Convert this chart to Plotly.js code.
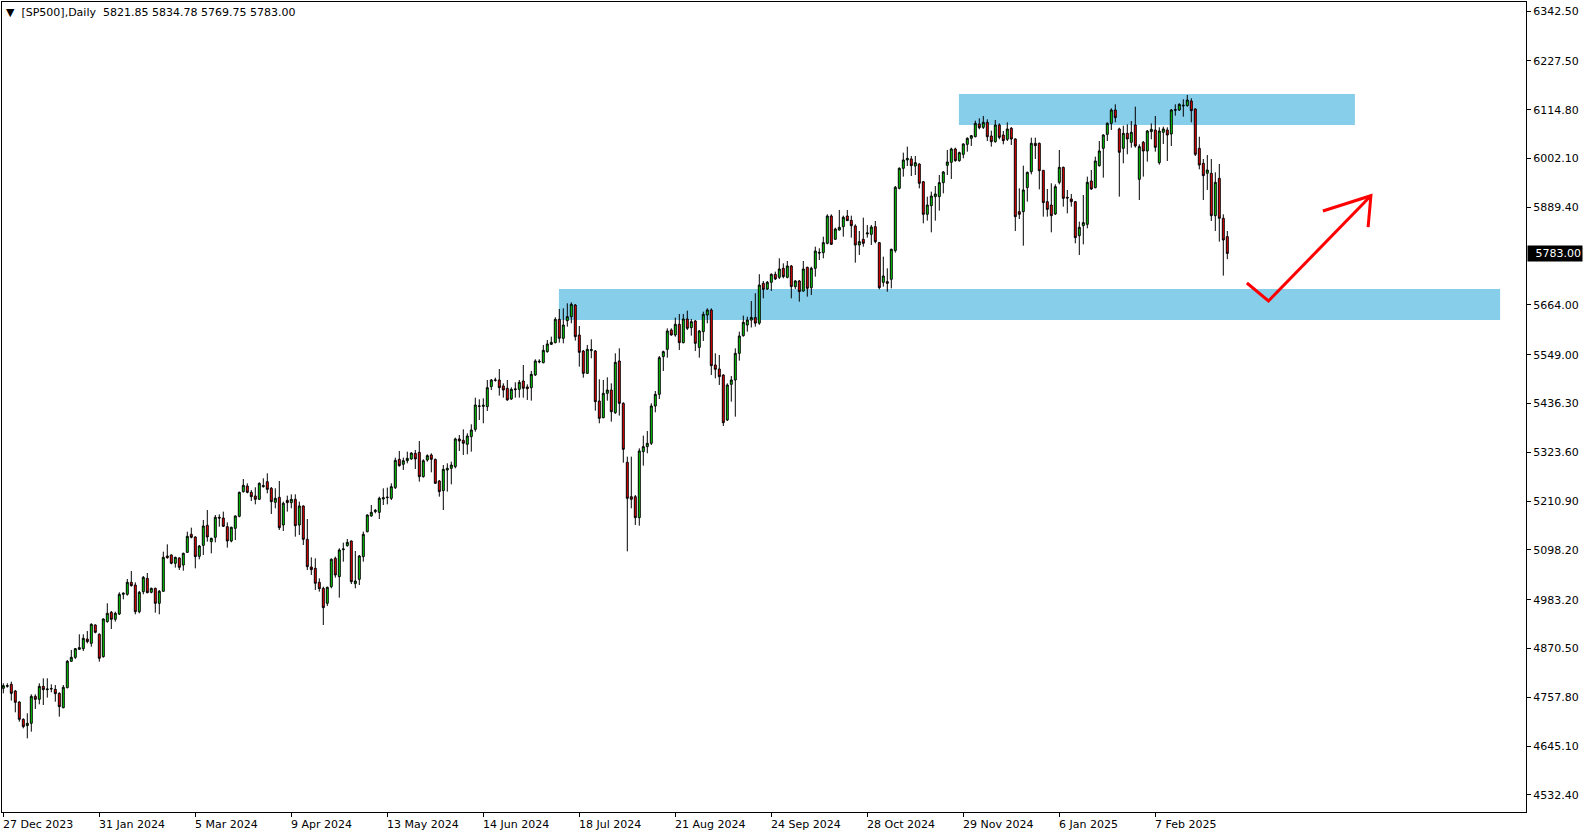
<!DOCTYPE html>
<html>
<head>
<meta charset="utf-8">
<script src="https://cdn.plot.ly/plotly-3.0.1.min.js"></script>
<style>
html,body{margin:0;padding:0;background:#fff;}
#chart{width:1590px;height:838px;}
</style>
</head>
<body>
<div id="chart"></div>
<script>
// ---- Data (SP500 CFD, daily) ----
const symbolTitle = "[SP500],Daily";
const lastBar = {open: 5821.85, high: 5834.78, low: 5769.75, close: 5783.00};

const openPrices = [
4778.7,4783.3,4787.9,4772.5,4747.1,4707.1,4692.5,4697.9,4760.2,4753.3,
4783.3,4775.6,4777.2,4776.4,4767.1,4734.1,4780.2,4841.1,4850.3,4868.8,
4870.3,4892.6,4882.6,4925.0,4903.4,4851.8,4932.7,4954.2,4938.0,4950.4,
4995.8,4995.8,5023.5,5017.3,4955.7,5001.9,5032.7,5000.4,5009.6,4975.0,
5002.7,5084.3,5086.6,5067.4,5079.7,5063.5,5092.7,5134.3,5128.2,5083.5,
5108.9,5155.1,5117.4,5127.4,5173.6,5172.0,5152.0,5118.9,5148.2,5175.9,
5232.9,5245.9,5231.3,5222.9,5215.2,5244.4,5255.9,5240.6,5208.2,5219.8,
5155.9,5212.9,5207.5,5215.2,5155.9,5199.8,5122.8,5058.9,5055.8,5023.5,
5009.6,4975.0,5013.5,5078.9,5036.6,5098.9,5108.2,5118.9,5020.4,5030.4,
5082.8,5140.5,5176.7,5186.7,5185.1,5215.9,5219.0,5217.5,5242.1,5307.5,
5296.0,5304.4,5308.3,5321.4,5323.7,5267.5,5306.0,5317.5,5307.5,5257.5,
5235.2,5282.9,5286.7,5290.6,5354.5,5351.4,5342.2,5359.9,5376.8,5429.9,
5429.9,5429.1,5475.3,5489.9,5490.7,5476.9,5471.5,5446.9,5468.4,5469.2,
5488.4,5474.6,5473.0,5502.3,5532.3,5530.7,5556.2,5573.1,5576.9,5630.8,
5587.0,5627.7,5637.0,5663.9,5594.6,5557.7,5506.1,5558.5,5557.7,5442.2,
5403.8,5459.9,5467.6,5415.3,5534.6,5436.8,5300.6,5221.3,5221.3,5172.8,
5325.2,5336.8,5344.5,5430.7,5457.6,5544.6,5561.5,5606.2,5594.6,5619.3,
5576.9,5631.6,5611.6,5627.0,5566.0,5602.3,5640.8,5652.4,5525.4,5516.1,
5502.3,5398.4,5480.7,5490.7,5552.3,5593.1,5617.7,5629.0,5635.0,5622.0,
5713.9,5700.9,5716.3,5734.7,5727.8,5748.6,5727.8,5754.0,5706.3,5719.4,
5696.2,5750.9,5703.9,5748.6,5785.6,5784.8,5806.3,5869.4,5815.6,5837.1,
5844.8,5869.4,5859.4,5846.4,5802.5,5815.6,5827.9,5827.1,5844.8,5807.9,
5716.2,5717.8,5723.2,5789.4,5933.3,5979.5,5998.8,6001.1,5984.9,5989.5,
5948.7,5873.3,5893.3,5914.1,5914.1,5946.4,5986.4,5993.4,6024.2,5997.2,
6011.8,6034.9,6048.8,6052.6,6081.9,6074.2,6085.7,6054.2,6041.1,6079.6,
6056.5,6046.5,6071.9,6047.3,5879.5,5879.5,5934.9,5971.8,6037.3,6037.3,
5974.9,5902.5,5894.8,5874.1,5947.2,5981.8,5912.6,5908.7,5902.5,5824.0,
5847.1,5850.2,5950.3,5934.9,5985.7,6025.7,6058.0,6083.4,6114.2,6070.4,
6025.7,6060.4,6039.6,6079.6,5954.1,6039.6,6019.5,6064.2,6068.0,5992.6,
6062.7,6068.0,6058.8,6113.5,6114.2,6123.5,6124.2,6135.0,6116.5,6025.7,
5991.1,5968.0,5968.0,5870.2,5956.4,5864.1,5821.85
];

const highPrices = [
4790.2,4790.2,4794.1,4774.9,4749.0,4709.4,4721.0,4764.8,4764.8,4790.2,
4801.8,4801.8,4787.9,4786.4,4769.5,4786.4,4844.1,4867.2,4871.8,4903.4,
4903.4,4911.1,4928.8,4926.5,4905.7,4940.4,4975.0,4957.3,4955.7,5000.4,
5000.4,5031.2,5049.7,5023.5,5003.5,5038.1,5045.0,5011.2,5011.2,5005.8,
5094.3,5111.2,5088.0,5082.8,5081.2,5092.0,5140.5,5149.7,5129.7,5109.7,
5167.4,5190.5,5126.6,5179.0,5180.5,5186.7,5162.0,5152.0,5178.0,5232.9,
5262.1,5252.1,5236.7,5242.9,5254.4,5263.6,5275.2,5243.6,5240.6,5257.5,
5209.8,5223.6,5226.7,5226.7,5209.8,5201.3,5169.7,5081.2,5078.9,5032.7,
5013.5,5013.5,5078.9,5082.8,5102.0,5115.1,5123.5,5120.0,5095.8,5086.6,
5140.5,5180.5,5202.1,5192.8,5221.3,5240.6,5242.1,5252.1,5311.4,5326.8,
5311.4,5325.2,5323.7,5329.1,5349.9,5307.5,5319.1,5321.4,5309.1,5259.8,
5294.4,5298.3,5302.1,5357.6,5363.7,5376.8,5367.6,5388.4,5449.9,5446.1,
5448.4,5490.7,5493.0,5496.1,5516.1,5483.0,5490.7,5473.8,5485.3,5490.7,
5525.4,5480.7,5511.5,5538.5,5538.5,5571.6,5583.1,5590.8,5635.5,5654.7,
5656.2,5667.8,5670.1,5666.2,5615.4,5560.0,5571.6,5584.6,5560.0,5492.3,
5490.7,5496.9,5483.0,5552.3,5563.9,5439.2,5313.7,5313.7,5225.2,5332.9,
5362.2,5373.0,5436.9,5465.3,5546.1,5558.5,5610.0,5610.0,5634.7,5643.1,
5643.1,5650.8,5631.6,5629.3,5606.2,5648.5,5656.2,5656.2,5552.3,5548.4,
5503.8,5483.0,5499.9,5563.9,5602.3,5639.3,5637.0,5673.0,5691.0,5735.0,
5719.3,5719.3,5737.0,5740.9,5771.7,5760.1,5765.5,5756.3,5721.7,5721.7,
5765.5,5752.4,5752.4,5798.6,5794.8,5821.7,5873.3,5873.3,5842.5,5883.3,
5870.2,5883.3,5870.2,5850.2,5834.8,5865.6,5848.7,5848.7,5857.9,5809.4,
5775.5,5748.6,5794.0,5938.7,5981.8,6015.7,6029.6,6008.0,6008.0,5991.0,
5950.3,5914.1,5925.6,5938.7,5964.1,5973.4,6021.9,6027.2,6027.2,6018.0,
6037.2,6051.1,6056.5,6089.6,6095.0,6100.4,6092.7,6066.5,6091.1,6083.4,
6065.7,6085.7,6075.0,6048.8,5933.3,5985.7,5971.8,6050.3,6050.3,6038.8,
5975.7,5931.8,5944.9,5942.6,6021.9,5983.4,5929.5,5920.3,5904.1,5856.4,
5917.9,5960.3,5975.7,6006.5,6042.6,6058.0,6085.7,6118.1,6127.3,6073.4,
6078.0,6081.1,6088.8,6121.9,6035.0,6042.6,6068.0,6083.4,6100.4,6074.2,
6075.7,6074.2,6116.5,6127.3,6129.6,6138.9,6148.9,6141.2,6118.1,6052.6,
6001.1,6010.3,6001.1,5970.3,5989.5,5873.3,5834.78
];

const lowPrices = [
4767.1,4780.2,4750.2,4723.3,4701.7,4686.3,4663.2,4678.6,4731.0,4741.8,
4740.2,4757.2,4769.5,4747.9,4713.3,4732.5,4778.7,4840.3,4846.5,4867.2,
4864.9,4882.6,4875.0,4905.7,4840.3,4849.5,4930.3,4915.7,4932.7,4948.0,
4984.2,4992.7,5013.5,4949.6,4951.9,4995.8,4998.1,4998.1,4953.4,4949.6,
5001.9,5078.0,5065.0,5057.4,5051.9,5050.4,5091.2,5125.1,5055.8,5076.6,
5086.6,5117.4,5090.4,5115.8,5152.0,5151.3,5103.5,5115.8,5121.2,5173.6,
5230.5,5229.0,5211.3,5203.6,5213.6,5242.1,5229.0,5181.3,5194.4,5144.3,
5142.0,5186.7,5194.4,5128.9,5132.8,5109.7,5052.0,5040.4,5005.8,5001.9,
4924.9,4968.8,5009.6,5034.3,4988.1,5071.2,5105.8,5019.6,5009.6,5017.3,
5071.2,5138.9,5175.1,5182.8,5169.7,5202.1,5203.6,5213.6,5239.0,5290.6,
5282.9,5298.3,5306.8,5285.2,5256.0,5265.2,5302.1,5277.5,5250.6,5221.3,
5190.5,5232.9,5249.8,5286.7,5326.8,5317.5,5319.1,5325.2,5371.4,5398.4,
5390.7,5419.1,5467.6,5486.9,5454.6,5449.9,5443.0,5444.6,5449.9,5449.9,
5449.9,5444.6,5443.0,5500.0,5529.2,5529.2,5553.8,5571.6,5575.4,5576.9,
5575.4,5613.9,5621.6,5581.6,5521.5,5496.1,5504.6,5540.8,5419.9,5390.7,
5402.2,5443.0,5394.5,5412.2,5408.4,5299.8,5095.0,5194.4,5155.9,5154.3,
5292.9,5321.4,5340.6,5416.1,5446.9,5511.5,5542.3,5593.1,5590.8,5560.0,
5575.4,5606.2,5593.1,5557.7,5542.3,5580.8,5621.6,5502.3,5494.6,5479.2,
5384.5,5396.1,5440.7,5406.0,5535.4,5590.8,5602.3,5612.0,5614.0,5618.0,
5679.3,5698.6,5696.3,5721.6,5724.0,5725.5,5725.5,5679.3,5700.9,5671.6,
5694.7,5683.2,5687.0,5729.4,5767.8,5771.7,5804.0,5802.5,5814.0,5836.0,
5821.7,5857.9,5819.4,5761.7,5779.4,5798.6,5819.4,5802.5,5806.3,5700.1,
5706.3,5694.7,5702.4,5784.8,5931.0,5960.3,5984.9,5961.8,5964.1,5933.3,
5852.5,5858.7,5831.7,5858.7,5881.8,5921.8,5964.1,5954.9,5994.9,5994.9,
6002.6,6018.0,6031.1,6051.1,6069.6,6070.4,6042.6,6029.6,6038.8,6046.5,
6034.9,6042.6,6033.4,5834.8,5862.5,5800.9,5902.6,5965.7,6001.1,5931.0,
5867.9,5867.9,5831.7,5871.8,5942.6,5891.0,5875.6,5891.0,5806.3,5779.4,
5804.0,5840.9,5929.5,5933.3,5983.4,5958.0,6042.6,6068.0,6085.7,5914.1,
5991.1,6011.9,6027.2,6027.2,5906.4,5960.3,5994.9,6046.5,6018.0,5988.0,
6035.7,5996.5,6031.1,6101.1,6111.9,6098.8,6121.9,6085.7,6008.0,5977.2,
5906.4,5929.5,5857.9,5834.8,5810.2,5731.7,5769.75
];

const closePrices = [
4784.9,4784.9,4767.1,4746.4,4707.1,4690.2,4697.9,4760.2,4753.3,4783.3,
4775.6,4777.2,4778.0,4766.4,4736.4,4781.0,4841.1,4850.3,4870.3,4872.6,
4894.2,4886.5,4926.5,4908.0,4848.0,4938.8,4951.9,4938.0,4951.9,4995.8,
4998.1,5023.5,5015.8,4955.7,5000.4,5035.0,4999.6,5009.6,4975.0,5002.7,
5081.2,5080.4,5067.4,5081.2,5058.1,5090.4,5129.7,5127.4,5082.8,5107.4,
5153.6,5128.2,5125.1,5173.6,5172.0,5152.8,5118.9,5150.5,5176.7,5231.3,
5247.5,5231.3,5221.3,5215.2,5252.1,5246.7,5238.2,5209.8,5217.5,5149.7,
5205.9,5207.5,5215.2,5154.3,5199.8,5122.8,5059.7,5052.7,5021.2,5008.9,
4965.0,5012.0,5076.6,5040.4,5098.2,5100.5,5115.8,5025.0,5026.6,5084.3,
5134.3,5179.0,5185.1,5189.8,5217.5,5219.0,5220.0,5244.4,5305.2,5292.9,
5304.4,5309.8,5322.1,5308.3,5267.5,5304.4,5316.0,5307.5,5252.1,5232.9,
5284.4,5286.7,5294.4,5354.5,5349.9,5344.5,5361.4,5375.3,5433.0,5430.7,
5432.2,5473.0,5490.7,5490.7,5473.0,5467.6,5444.6,5469.2,5469.9,5485.3,
5471.5,5470.7,5503.8,5534.6,5533.8,5559.2,5573.9,5577.7,5630.8,5587.0,
5617.7,5637.0,5665.5,5590.8,5554.6,5506.1,5561.6,5560.8,5440.7,5402.2,
5459.9,5467.6,5417.6,5531.5,5436.8,5330.6,5217.5,5215.2,5172.8,5326.8,
5336.8,5344.5,5430.7,5457.6,5542.3,5556.2,5603.9,5594.6,5619.3,5576.9,
5631.6,5610.0,5625.4,5575.4,5603.9,5642.4,5652.4,5523.8,5515.4,5498.4,
5392.2,5479.2,5490.7,5552.3,5592.3,5623.9,5629.3,5635.0,5622.0,5710.0,
5700.1,5716.3,5734.7,5724.0,5747.1,5729.4,5754.0,5706.3,5719.4,5694.7,
5747.1,5702.4,5748.6,5788.6,5784.0,5807.9,5869.4,5804.0,5839.4,5843.3,
5866.4,5858.7,5847.1,5802.5,5810.2,5806.3,5830.2,5844.0,5810.2,5703.9,
5730.9,5714.0,5792.5,5935.6,5979.5,5998.8,6002.6,5985.7,5992.6,5944.9,
5873.3,5894.9,5915.6,5920.3,5946.4,5971.1,5994.1,6024.2,5997.2,6015.7,
6035.7,6048.8,6054.9,6083.4,6073.4,6085.7,6052.6,6041.1,6079.6,6051.1,
6043.4,6070.4,6047.3,5867.9,5873.3,5929.5,5970.3,6037.3,6031.9,5974.1,
5900.3,5884.8,5870.2,5937.2,5981.8,5910.2,5911.0,5902.5,5819.4,5843.3,
5854.1,5947.2,5931.8,5996.5,6019.6,6056.5,6083.4,6114.2,6096.5,6016.5,
6060.3,6047.3,6062.7,6031.1,6029.6,6019.5,6065.7,6069.6,6028.0,6065.7,
6070.4,6056.5,6114.2,6115.0,6127.3,6125.0,6137.3,6112.7,6011.9,5987.2,
5962.6,5975.7,5870.2,5947.2,5864.1,5814.0,5783.00
];

// date labels, one every 24 bars
const dateLabels = ["27 Dec 2023","31 Jan 2024","5 Mar 2024","9 Apr 2024","13 May 2024","14 Jun 2024",
  "18 Jul 2024","21 Aug 2024","24 Sep 2024","28 Oct 2024","29 Nov 2024","6 Jan 2025","7 Feb 2025"];
const barsPerLabel = 24;

// price scale labels
const priceTicks = [6342.50,6227.50,6114.80,6002.10,5889.40,5664.00,5549.00,5436.30,5323.60,
  5210.90,5098.20,4983.20,4870.50,4757.80,4645.10,4532.40];

// drawn objects (in bar index / price units)
const zoneLowX = [138.9, 374.2];   const zoneLowY = [5629.3, 5700.9];
const zoneHighX = [238.9, 337.9];  const zoneHighY = [6079.6, 6151.2];
const arrowX = [310.9, 316.3, 341.9, null, 329.9, 341.9, 341.2];
const arrowY = [5714.7, 5673.2, 5916.3, null, 5881.0, 5916.3, 5844.0];

// ---- Chart ----
const barIndex = openPrices.map((_, i) => i);
const FONT = "DejaVu Sans, Verdana, sans-serif";

const candles = {
  type: "candlestick",
  x: barIndex,
  open: openPrices, high: highPrices, low: lowPrices, close: closePrices,
  increasing: {line: {color: "#000000", width: 1}, fillcolor: "#00e000"},
  decreasing: {line: {color: "#000000", width: 1}, fillcolor: "#ff0000"},
  whiskerwidth: 0,
  hoverinfo: "skip",
  showlegend: false
};

const arrow = {
  type: "scatter", mode: "lines",
  x: arrowX, y: arrowY,
  line: {color: "#ff0000", width: 3},
  connectgaps: false, hoverinfo: "skip", showlegend: false
};

const tickVals = dateLabels.map((_, i) => i * barsPerLabel);

const annotations = dateLabels.map((lab, i) => ({
  xref: "x", yref: "paper", x: tickVals[i], y: 0,
  xanchor: "left", yanchor: "top", yshift: -4, xshift: -2,
  text: lab, showarrow: false,
  font: {family: FONT, size: 11, color: "#000"}
}));

annotations.push({
  xref: "paper", yref: "paper", x: 0, y: 1, xanchor: "left", yanchor: "middle",
  xshift: 2, yshift: -10,
  text: "▼\u00a0\u00a0" + symbolTitle + "\u00a0\u00a0" +
        [lastBar.open, lastBar.high, lastBar.low, lastBar.close].map(v => v.toFixed(2)).join("\u00a0"),
  showarrow: false, font: {family: FONT, size: 11, color: "#000"}
});

annotations.push({
  xref: "paper", yref: "y", x: 1, y: lastBar.close, xanchor: "left", yanchor: "middle",
  xshift: 1, text: lastBar.close.toFixed(2), showarrow: false,
  bgcolor: "#000000", borderpad: 1, width: 52, align: "right",
  font: {family: FONT, size: 11, color: "#ffffff"}
});

const shapes = [
  {type: "rect", xref: "x", yref: "y", x0: zoneLowX[0], x1: zoneLowX[1], y0: zoneLowY[0], y1: zoneLowY[1],
   fillcolor: "#87ceeb", line: {width: 0}, layer: "below"},
  {type: "rect", xref: "x", yref: "y", x0: zoneHighX[0], x1: zoneHighX[1], y0: zoneHighY[0], y1: zoneHighY[1],
   fillcolor: "#87ceeb", line: {width: 0}, layer: "below"}
];

const layout = {
  width: 1590, height: 838,
  margin: {l: 2, r: 64, t: 2, b: 26},
  paper_bgcolor: "#ffffff", plot_bgcolor: "#ffffff",
  boxgap: 0.3,
  showlegend: false,
  font: {family: FONT, size: 11, color: "#000"},
  xaxis: {
    range: [-0.325, 380.675],
    showgrid: false, zeroline: false,
    showline: true, mirror: true, linecolor: "#000", linewidth: 1,
    ticks: "outside", ticklen: 4, tickcolor: "#000",
    tickvals: tickVals, ticktext: tickVals.map(() => ""),
    rangeslider: {visible: false}, fixedrange: true
  },
  yaxis: {
    range: [4493.1, 6363.6],
    side: "right",
    showgrid: false, zeroline: false,
    showline: true, mirror: true, linecolor: "#000", linewidth: 1,
    ticks: "outside", ticklen: 4, tickcolor: "#000",
    tickvals: priceTicks, ticktext: priceTicks.map(v => v.toFixed(2)),
    tickfont: {family: FONT, size: 11, color: "#000"},
    fixedrange: true
  },
  shapes: shapes,
  annotations: annotations
};

Plotly.newPlot("chart", [candles, arrow], layout, {displayModeBar: false, staticPlot: true});
</script>
</body>
</html>
